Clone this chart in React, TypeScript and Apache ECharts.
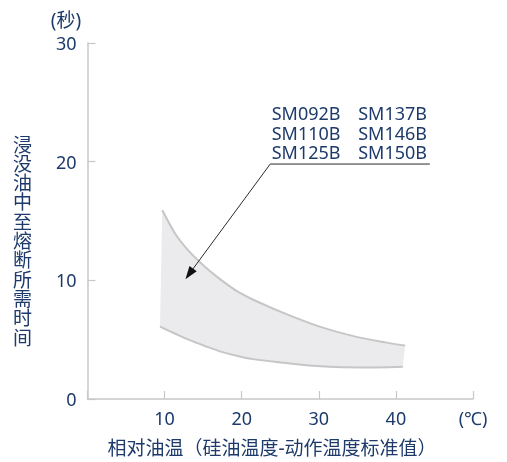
import React, { useEffect, useRef } from "react";
import * as echarts from "echarts";

// Band: upper and lower boundary curves (x = relative oil temp, y = seconds)
const upperX = [9.7, 11.4, 13.1, 15.3, 17.4, 19.6, 21.7, 25.8, 30.1, 34.5, 38.8, 41.2];
const upperY = [15.9, 13.9, 12.5, 11.1, 10.0, 9.0, 8.3, 7.15, 6.1, 5.3, 4.75, 4.5];
const lowerX = [9.4, 11.4, 13.1, 15.3, 17.4, 19.6, 21.7, 25.4, 28, 32.3, 36.6, 40.9];
const lowerY = [6.1, 5.5, 5.0, 4.45, 3.97, 3.6, 3.34, 3.05, 2.86, 2.69, 2.66, 2.71];

// Annotation (data coordinates)
const leaderCorner = [23.7, 19.8];
const leaderEnd = [44.4, 19.8];
const arrowTip = [12.7, 10.1];
const modelsLeft = ["SM092B", "SM110B", "SM125B"];
const modelsRight = ["SM137B", "SM146B", "SM150B"];

const yTicks = [0, 10, 20, 30];
const xTicks = [0, 10, 20, 30, 40, 50];
const xUnit = "(℃)";
const yUnit = "(秒)";
const yName = "浸没油中至熔断所需时间";
const xName = "相对油温（硅油温度-动作温度标准值）";

const NAVY = "#1d3a6b";
const FONT = "'Noto Sans', 'Noto Sans CJK SC', sans-serif";

function crPath(pts: number[][], start: "M" | "L") {
  let d = `${start}${pts[0][0]},${pts[0][1]}`;
  for (let i = 0; i < pts.length - 1; i++) {
    const p0 = pts[i - 1] || pts[i];
    const p1 = pts[i];
    const p2 = pts[i + 1];
    const p3 = pts[i + 2] || p2;
    const c1x = p1[0] + (p2[0] - p0[0]) / 6;
    const c1y = p1[1] + (p2[1] - p0[1]) / 6;
    const c2x = p2[0] - (p3[0] - p1[0]) / 6;
    const c2y = p2[1] - (p3[1] - p1[1]) / 6;
    d += `C${c1x},${c1y} ${c2x},${c2y} ${p2[0]},${p2[1]}`;
  }
  return d;
}

export default function App() {
  const ref = useRef<HTMLDivElement>(null);
  useEffect(() => {
    if (!ref.current) return;
    const chart = echarts.init(ref.current, undefined, { renderer: "svg" });
    const option: any = {
      animation: false,
      grid: { left: 87.5, right: 34, top: 43, bottom: 63 },
      xAxis: {
        type: "value",
        min: xTicks[0],
        max: xTicks[xTicks.length - 1],
        interval: 10,
        axisLine: { lineStyle: { color: "#c8c8c8", width: 1.5 } },
        axisTick: { inside: true, length: 8, lineStyle: { color: "#c8c8c8", width: 1.2 } },
        splitLine: { show: false },
        axisLabel: {
          margin: 10,
          fontSize: 18,
          color: NAVY,
          fontFamily: FONT,
          formatter: (v: number) => (v === 0 ? "" : v === 50 ? xUnit : String(v)),
        },
      },
      yAxis: {
        type: "value",
        min: yTicks[0],
        max: yTicks[yTicks.length - 1],
        interval: 10,
        axisLine: { show: true, lineStyle: { color: "#c8c8c8", width: 1.5 } },
        axisTick: { show: true, inside: true, length: 8, lineStyle: { color: "#c8c8c8", width: 1.2 } },
        splitLine: { show: false },
        axisLabel: { margin: 11, fontSize: 18, color: NAVY, fontFamily: FONT },
      },
      graphic: [
        {
          type: "text",
          x: 66,
          y: 20,
          style: {
            text: yUnit,
            fontSize: 19,
            fill: NAVY,
            fontFamily: FONT,
            align: "center",
            verticalAlign: "middle",
          },
        },
        {
          type: "text",
          x: 22.5,
          y: 241,
          style: {
            text: yName.split("").join("\n"),
            fontSize: 19,
            lineHeight: 19.3,
            fill: NAVY,
            fontFamily: FONT,
            align: "center",
            verticalAlign: "middle",
          },
        },
        {
          type: "text",
          x: 272,
          y: 448,
          style: {
            text: xName,
            fontSize: 19,
            fill: NAVY,
            fontFamily: FONT,
            align: "center",
            verticalAlign: "middle",
          },
        },
      ],
      series: [
        {
          type: "custom",
          coordinateSystem: "cartesian2d",
          data: [[0, 0]],
          renderItem: (_params: any, api: any) => {
            const up = upperX.map((x, i) => api.coord([x, upperY[i]]));
            const lo = lowerX.map((x, i) => api.coord([x, lowerY[i]]));
            const loRev = lo.slice().reverse();
            const fillD = crPath(up, "M") + crPath(loRev, "L") + "Z";
            const corner = api.coord(leaderCorner);
            const end = api.coord(leaderEnd);
            const tip = api.coord(arrowTip);
            const dx = tip[0] - corner[0];
            const dy = tip[1] - corner[1];
            const len = Math.sqrt(dx * dx + dy * dy);
            const ux = dx / len;
            const uy = dy / len;
            const headLen = 13;
            const headHalf = 4.5;
            const bx = tip[0] - ux * headLen;
            const by = tip[1] - uy * headLen;
            const textStyle = { fontSize: 18, fill: NAVY, fontFamily: FONT, verticalAlign: "middle" };
            const texts: any[] = [];
            modelsLeft.forEach((t, i) => {
              texts.push({
                type: "text",
                x: corner[0] + 1.5,
                y: corner[1] - 51 + i * 19.7,
                style: { ...textStyle, text: t },
              });
            });
            modelsRight.forEach((t, i) => {
              texts.push({
                type: "text",
                x: corner[0] + 88,
                y: corner[1] - 51 + i * 19.7,
                style: { ...textStyle, text: t },
              });
            });
            return {
              type: "group",
              children: [
                { type: "path", shape: { pathData: fillD }, style: { fill: "#ebebed", stroke: null } },
                { type: "path", shape: { pathData: crPath(up, "M") }, style: { fill: null, stroke: "#c6c6c6", lineWidth: 2 } },
                { type: "path", shape: { pathData: crPath(lo, "M") }, style: { fill: null, stroke: "#c6c6c6", lineWidth: 2 } },
                {
                  type: "polyline",
                  shape: { points: [end, corner, [bx + ux * 2, by + uy * 2]] },
                  style: { fill: null, stroke: "#2a2a2a", lineWidth: 1 },
                },
                {
                  type: "polygon",
                  shape: {
                    points: [
                      tip,
                      [bx - uy * headHalf, by + ux * headHalf],
                      [bx + uy * headHalf, by - ux * headHalf],
                    ],
                  },
                  style: { fill: "#111", stroke: null },
                },
                ...texts,
              ],
            };
          },
        },
      ],
    };
    chart.setOption(option);
    return () => chart.dispose();
  }, []);
  return (
    <div
      ref={ref}
      style={{ position: "fixed", left: 0, top: 0, width: 507, height: 462 }}
    />
  );
}
